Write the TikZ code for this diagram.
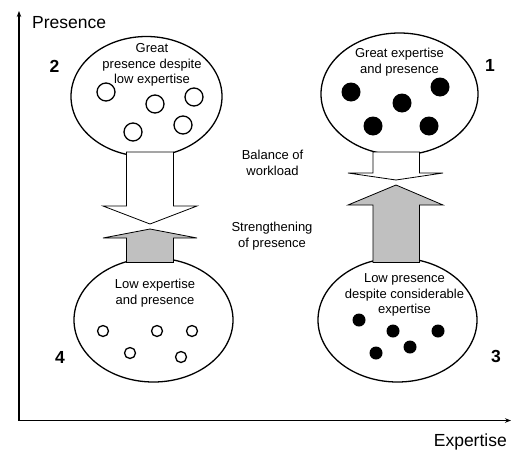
\documentclass[tikz,border=0pt]{standalone}
\usepackage{fontspec}
\setmainfont{Liberation Sans}
\usetikzlibrary{arrows.meta,shapes.geometric}
\definecolor{arrowgray}{HTML}{C0C0C0}
\tikzset{
  ell/.style={draw, ellipse, line width=1.3pt, inner sep=0pt},
  lbl/.style={align=center, inner sep=0pt, font=\fontsize{13}{15.8}\selectfont},
  num/.style={inner sep=0pt, font=\fontsize{17.5}{20}\selectfont\bfseries},
  axlbl/.style={inner sep=0pt, font=\fontsize{17.5}{20}\selectfont},
  axis/.style={line width=1.1pt, -{Stealth[length=6pt,width=4.5pt]}},
  blockarrow/.style={draw, line width=0.8pt, line join=miter},
  odot/.style={draw, line width=1.3pt, fill=white},
  fdot/.style={fill=black},
}
\begin{document}
\begin{tikzpicture}[x=1pt,y=-1pt]
\useasboundingbox (0,0) rectangle (511,450);
% axes
\coordinate (origin) at (19,420.5);
\coordinate (ytop) at (19,11);
\coordinate (xend) at (511,420.5);
\draw[axis] (origin) -- (ytop);
\draw[axis] (origin) -- (xend);
\node[axlbl, anchor=base west] (ylab) at (32,28) {Presence};
\node[axlbl, anchor=base east] (xlab) at (507,446.5) {Expertise};

% ellipses
\node[ell, minimum width=151pt, minimum height=120pt] (e2) at (146.5,96.5) {};
\node[ell, minimum width=157pt, minimum height=122pt] (e1) at (399.5,94) {};
\node[ell, minimum width=159pt, minimum height=124pt] (e4) at (153.5,320) {};
\node[ell, minimum width=159pt, minimum height=124pt] (e3) at (397.5,320) {};

% ellipse texts
\node[lbl] (t2) at (152,65) {Great\\presence despite\\low expertise};
\node[lbl] (t1) at (399.5,62) {Great expertise\\and presence};
\node[lbl] (t4) at (155,293) {Low expertise\\and presence};
\node[lbl] (t3) at (404.5,295) {Low presence\\despite considerable\\expertise};

% dots
\foreach \p in {(106,92),(155,104),(194,97),(133,132),(183,125)}
  \draw[odot] \p circle[radius=9pt];
\foreach \p in {(351,92),(440,87),(402,103),(373,126),(429,126)}
  \fill[fdot] \p circle[radius=9.5pt];
\foreach \p in {(103,331),(157,331),(192,331),(130,353),(181,357)}
  \draw[odot] \p circle[radius=5.5pt];
\foreach \p in {(359,320),(393,331),(438,331),(376,353),(410,347)}
  \fill[fdot] \p circle[radius=6.5pt];

% block arrows
\draw[blockarrow, fill=white] (126.5,152) -- (173.5,152) -- (173.5,206) -- (197,206) -- (150,224) -- (103,206) -- (126.5,206) -- cycle;
\draw[blockarrow, fill=arrowgray] (126.5,262.5) -- (173.5,262.5) -- (173.5,238) -- (197,238) -- (150,229) -- (103,238) -- (126.5,238) -- cycle;
\draw[blockarrow, fill=white] (373,152) -- (419.5,152) -- (419.5,173) -- (443,173) -- (396,180) -- (348,173) -- (373,173) -- cycle;
\draw[blockarrow, fill=arrowgray] (373,262.5) -- (419.5,262.5) -- (419.5,205) -- (443,205) -- (396,185) -- (348,205) -- (373,205) -- cycle;

% middle texts
\node[lbl] (bal) at (272.5,163) {Balance of\\workload};
\node[lbl] (str) at (272,236) {Strengthening\\of presence};

% numbers
\node[num] (n2) at (54.5,66) {2};
\node[num] (n1) at (490,65) {1};
\node[num] (n4) at (60,357.5) {4};
\node[num] (n3) at (496,356.5) {3};
\end{tikzpicture}
\end{document}
